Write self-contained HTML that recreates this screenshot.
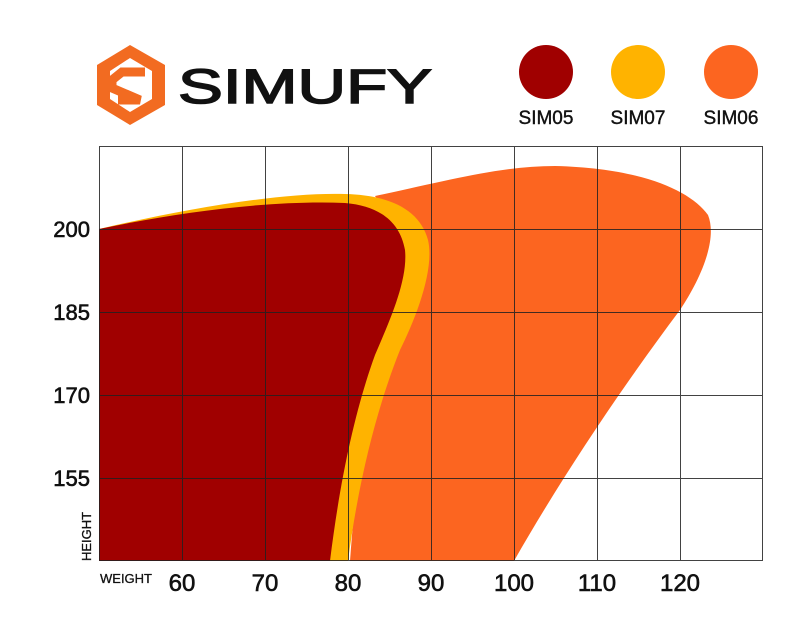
<!DOCTYPE html>
<html><head><meta charset="utf-8"><style>
body{margin:0;background:#fff;width:800px;height:640px;overflow:hidden}
svg{display:block}
text{font-family:"Liberation Sans",sans-serif}
</style></head><body>
<svg width="800" height="640" viewBox="0 0 800 640">
<g fill="#f26b21">
<polygon points="130,45 165,65 165,105 130,125 97,105 97,65" fill="#f26b21"/>
<polygon points="130,58 152,71 152,99 130,112 110,99 110,71" fill="#fff"/>
<path d="M145,72 L122,72 L112,80 L112,88 L140,100 L118,100" fill="none" stroke="#f26b21" stroke-width="9" stroke-linejoin="miter"/>
</g>
<text x="178" y="103" font-size="48" textLength="254" lengthAdjust="spacingAndGlyphs" fill="#111" stroke="#111" stroke-width="1.5">SIMUFY</text>
<circle cx="546" cy="72" r="27" fill="#a00000"/>
<circle cx="638" cy="72" r="27" fill="#ffb300"/>
<circle cx="731" cy="72" r="27" fill="#fc6520"/>
<g font-size="19" text-anchor="middle" fill="#111" stroke="#111" stroke-width="0.4">
<text x="546" y="124">SIM05</text>
<text x="638" y="124">SIM07</text>
<text x="731" y="124">SIM06</text>
</g>
<path d="M350,561 C358,450 370,380 395,330 C410,290 390,220 375,196 C450,180 500,166 555,166 C640,168 690,190 708,215 C718,240 700,280 680,310 C620,390 560,480 514,561 Z" fill="#fc6520"/>
<path d="M99,229 C180,210 280,192 345,194 C390,195 420,210 428,240 C435,270 415,320 400,350 C380,400 360,470 348,561 L330,561 L99,561 Z" fill="#ffb300"/>
<path d="M99,229 C180,212 270,200 345,203 C380,206 400,222 405,250 C408,280 390,320 375,355 C355,410 340,480 330,561 L99,561 Z" fill="#a00000"/>
<g stroke="#222" stroke-width="1" fill="none" opacity="0.85">
<rect x="99.5" y="146.5" width="663" height="414"/>
<path d="M182.5,146V561M265.5,146V561M348.5,146V561M431.5,146V561M514.5,146V561M597.5,146V561M680.5,146V561M99,229.5H763M99,312.5H763M99,395.5H763M99,478.5H763"/>
</g>
<g font-size="22" fill="#111" text-anchor="end" stroke="#111" stroke-width="0.6">
<text x="90" y="237">200</text>
<text x="90" y="320">185</text>
<text x="90" y="403">170</text>
<text x="90" y="486">155</text>
</g>
<text transform="translate(91,561) rotate(-90)" font-size="13" fill="#111" stroke="#111" stroke-width="0.3">HEIGHT</text>
<text x="100" y="583" font-size="13" fill="#111" stroke="#111" stroke-width="0.3">WEIGHT</text>
<g font-size="24" fill="#111" text-anchor="middle" stroke="#111" stroke-width="0.6">
<text x="182" y="591">60</text>
<text x="265" y="591">70</text>
<text x="348" y="591">80</text>
<text x="431" y="591">90</text>
<text x="514" y="591">100</text>
<text x="597" y="591">110</text>
<text x="680" y="591">120</text>
</g>
</svg>
</body></html>
